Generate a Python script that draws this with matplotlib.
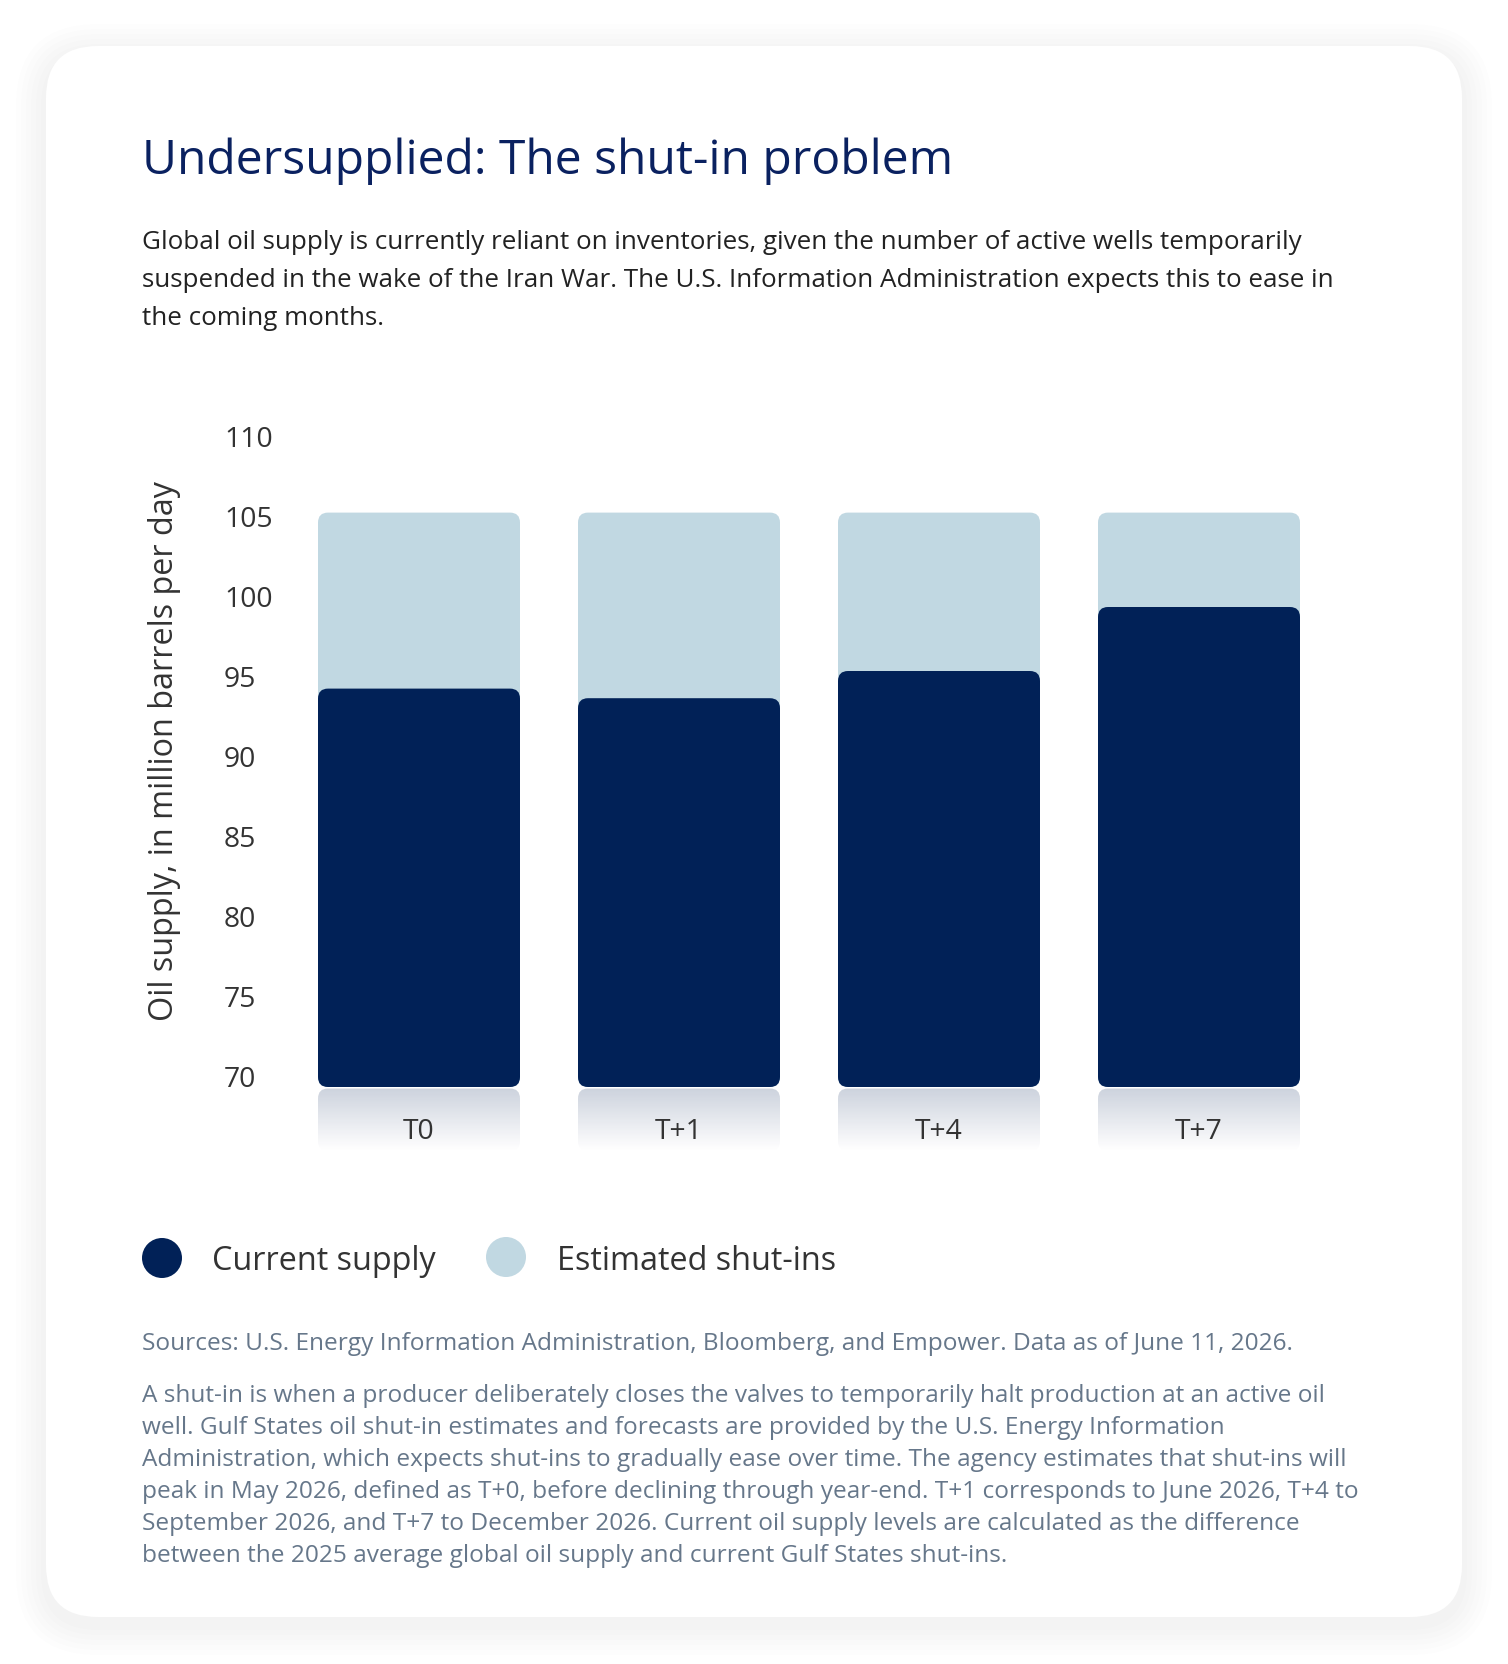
import numpy as np
import matplotlib
matplotlib.use("Agg")
import matplotlib.pyplot as plt
from matplotlib.patches import FancyBboxPatch, Circle

# ---------------- data ----------------
categories = ["T0", "T+1", "T+4", "T+7"]
current_supply = [94.9, 94.3, 96.0, 100.0]
total_supply = [105.9, 105.9, 105.9, 105.9]   # current supply + estimated shut-ins
y_ticks = [70, 75, 80, 85, 90, 95, 100, 105, 110]
y_tick_labels = ["70", "75", "80", "85", "90", "95", "100", "105", "110"]
legend_labels = ["Current supply", "Estimated shut-ins"]

title = "Undersupplied: The shut-in problem"
subtitle_lines = [
    "Global oil supply is currently reliant on inventories, given the number of active wells temporarily",
    "suspended in the wake of the Iran War. The U.S. Information Administration expects this to ease in",
    "the coming months.",
]
y_label = "Oil supply, in million barrels per day"
sources = "Sources: U.S. Energy Information Administration, Bloomberg, and Empower. Data as of June 11, 2026."
note_lines = [
    "A shut-in is when a producer deliberately closes the valves to temporarily halt production at an active oil",
    "well. Gulf States oil shut-in estimates and forecasts are provided by the U.S. Energy Information",
    "Administration, which expects shut-ins to gradually ease over time. The agency estimates that shut-ins will",
    "peak in May 2026, defined as T+0, before declining through year-end. T+1 corresponds to June 2026, T+4 to",
    "September 2026, and T+7 to December 2026. Current oil supply levels are calculated as the difference",
    "between the 2025 average global oil supply and current Gulf States shut-ins.",
]

# ---------------- style ----------------
NAVY = "#012157"
LIGHT = "#c1d8e2"
TITLE_C = "#0a2160"
TEXT_C = "#222222"
TICK_C = "#333333"
NOTE_C = "#66778a"
FONT = ["Open Sans", "DejaVu Sans"]
plt.rcParams["font.family"] = FONT

W, H = 1508, 1664
fig = plt.figure(figsize=(W / 100, H / 100), dpi=100)
fig.patch.set_facecolor("white")

bg = fig.add_axes([0, 0, 1, 1])
bg.set_xlim(0, W)
bg.set_ylim(H, 0)
bg.axis("off")

# card shadow (faint)
cx0, cy0, cx1, cy1, crad = 46, 46, 1462, 1617, 52
for k in range(6, 0, -1):
    g = k * 5.0
    bg.add_patch(FancyBboxPatch((cx0 - g, cy0 - g + 8), (cx1 - cx0) + 2 * g, (cy1 - cy0) + 2 * g,
                                boxstyle=f"round,pad=0,rounding_size={crad + g}",
                                facecolor="black", edgecolor="none", alpha=0.006, zorder=0))
bg.add_patch(FancyBboxPatch((cx0, cy0), cx1 - cx0, cy1 - cy0,
                            boxstyle=f"round,pad=0,rounding_size={crad}",
                            facecolor="white", edgecolor="none", zorder=1))

# title & subtitle
bg.text(142, 174, title, fontsize=34.6, color=TITLE_C, ha="left", va="baseline", zorder=2)
for i, line in enumerate(subtitle_lines):
    bg.text(142, 249 + i * 38, line, fontsize=18.7, color=TEXT_C, ha="left", va="baseline", zorder=2)

# y label
bg.text(165, 751, y_label, fontsize=23.3, color=TICK_C, rotation=90, ha="center", va="center", zorder=2)

# ---------------- chart axes ----------------
ax_l, ax_r, ax_t, ax_b = 289, 1329, 447, 1151
ax = fig.add_axes([ax_l / W, 1 - ax_b / H, (ax_r - ax_l) / W, (ax_b - ax_t) / H])
ax.set_facecolor("none")
ax.set_zorder(3)
ymin, ymax = 66, 110
ax.set_xlim(-0.5, len(categories) - 0.5)
ax.set_ylim(ymin, ymax)
for s in ax.spines.values():
    s.set_visible(False)
ax.set_xticks([])
ax.set_yticks(y_ticks)
ax.set_yticklabels(y_tick_labels, fontsize=20.3, color=TICK_C)
ax.tick_params(axis="y", length=0, pad=65 * 72 / 100)
for t in ax.get_yticklabels():
    t.set_horizontalalignment("left")
    t.set_verticalalignment("baseline")

px_per_x = (ax_r - ax_l) / len(categories)          # pixels per x unit
px_per_y = (ax_b - ax_t) / (ymax - ymin)            # pixels per y unit
bar_w = 202 / px_per_x
r_px = 10
r_x = r_px / px_per_x
m_aspect = px_per_x / px_per_y
base = y_ticks[0]

fade_h = 63 / px_per_y
grad_n = 64
grad = np.zeros((grad_n, 2, 4))
navy_rgb = matplotlib.colors.to_rgb(NAVY)
grad[..., 0] = navy_rgb[0]
grad[..., 1] = navy_rgb[1]
grad[..., 2] = navy_rgb[2]
grad[..., 3] = np.linspace(0.2, 0.0, grad_n)[:, None]

for i, cat in enumerate(categories):
    x0 = i - bar_w / 2
    # shut-ins (total) bar
    ax.add_patch(FancyBboxPatch((x0, base), bar_w, total_supply[i] - base,
                                boxstyle=f"round,pad=0,rounding_size={r_x}",
                                mutation_aspect=m_aspect,
                                facecolor=LIGHT, edgecolor="none", zorder=2))
    # current supply bar
    ax.add_patch(FancyBboxPatch((x0, base), bar_w, current_supply[i] - base,
                                boxstyle=f"round,pad=0,rounding_size={r_x}",
                                mutation_aspect=m_aspect,
                                facecolor=NAVY, edgecolor="none", zorder=3))
    # reflection fade below the bar
    ftop = base - 1.5 / px_per_y
    clip = FancyBboxPatch((x0, ftop - fade_h), bar_w, fade_h,
                          boxstyle=f"round,pad=0,rounding_size={r_x}",
                          mutation_aspect=m_aspect,
                          facecolor="none", edgecolor="none", transform=ax.transData)
    ax.add_patch(clip)
    im = ax.imshow(grad, extent=(x0, x0 + bar_w, ftop - fade_h, ftop),
                   origin="upper", aspect="auto", interpolation="bilinear", zorder=1)
    im.set_clip_path(clip)
    # category label
    ax.text(i, ymax - (1132 - ax_t) / px_per_y, cat, fontsize=20.3, color=TICK_C,
            ha="center", va="center", zorder=4)

ax.set_xlim(-0.5, len(categories) - 0.5)
ax.set_ylim(ymin, ymax)

# ---------------- legend ----------------
leg_items = [(162, 1258, NAVY, 212), (506, 1257, LIGHT, 557)]
for (lx, ly, col, tx), lab in zip(leg_items, legend_labels):
    bg.add_patch(Circle((lx, ly), 20, facecolor=col, edgecolor="none", zorder=2))
    bg.text(tx, 1270, lab, fontsize=23.3, color=TICK_C, ha="left", va="baseline", zorder=2)

# ---------------- notes ----------------
bg.text(142, 1350, sources, fontsize=17.6, color=NOTE_C, ha="left", va="baseline", zorder=2)
for i, line in enumerate(note_lines):
    bg.text(142, 1402 + i * 32, line, fontsize=17.6, color=NOTE_C, ha="left", va="baseline", zorder=2)

fig.savefig("out.png", dpi=100, facecolor="white")
